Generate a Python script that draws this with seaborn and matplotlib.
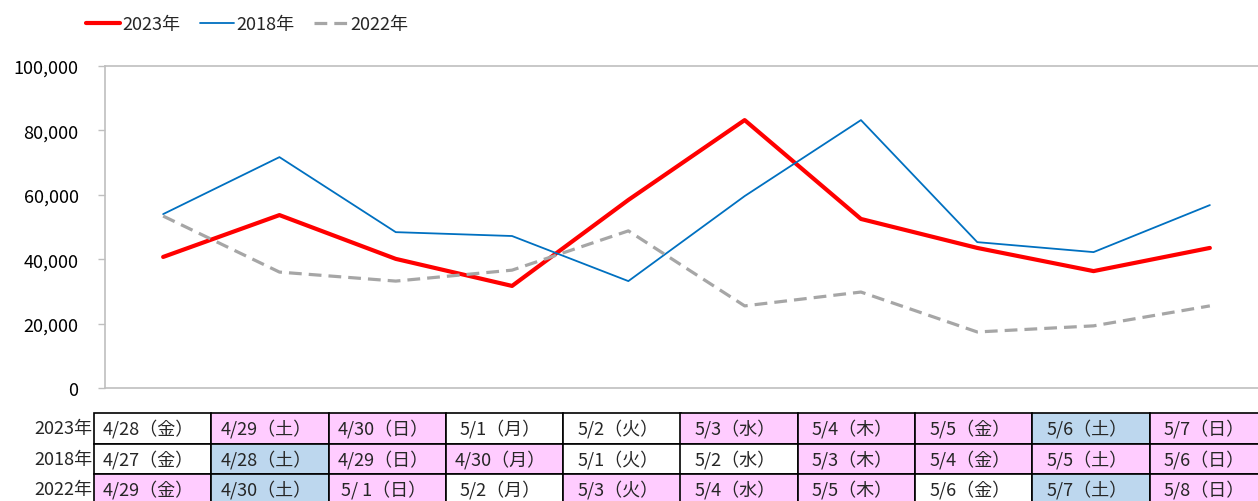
import numpy as np
import pandas as pd
import matplotlib
matplotlib.use("Agg")
import matplotlib.pyplot as plt
import seaborn as sns
from matplotlib.patches import Rectangle
from matplotlib.ticker import FuncFormatter

# ------------------------------------------------------------
# Données
# ------------------------------------------------------------
years = ["2023年", "2018年", "2022年"]

v2023 = [40700, 53700, 40100, 31700, 58400, 83200, 52500, 43500, 36300, 43500]
v2018 = [54000, 71700, 48400, 47200, 33200, 59600, 83200, 45300, 42200, 56800]
v2022 = [53400, 36000, 33200, 36600, 48800, 25500, 29800, 17400, 19300, 25500]

dates2023 = ["4/28（金）", "4/29（土）", "4/30（日）", "5/1（月）", "5/2（火）",
             "5/3（水）", "5/4（木）", "5/5（金）", "5/6（土）", "5/7（日）"]
dates2018 = ["4/27（金）", "4/28（土）", "4/29（日）", "4/30（月）", "5/1（火）",
             "5/2（水）", "5/3（木）", "5/4（金）", "5/5（土）", "5/6（日）"]
dates2022 = ["4/29（金）", "4/30（土）", "5/ 1（日）", "5/2（月）", "5/3（火）",
             "5/4（水）", "5/5（木）", "5/6（金）", "5/7（土）", "5/8（日）"]

# w = jour ouvré, h = férié / dimanche, s = samedi
kind2023 = ["w", "h", "h", "w", "w", "h", "h", "h", "s", "h"]
kind2018 = ["w", "s", "h", "h", "w", "w", "h", "h", "h", "h"]
kind2022 = ["h", "s", "h", "w", "h", "h", "h", "w", "s", "h"]

day = np.arange(len(v2023))

# ------------------------------------------------------------
# Style
# ------------------------------------------------------------
sns.set_theme(style="white")
plt.rcParams["font.family"] = ["Noto Sans CJK JP", "DejaVu Sans"]

W, H = 1258, 502
fig = plt.figure(figsize=(W / 100, H / 100), dpi=100)

def fx(px):
    return px / W

def fy(py):
    return 1 - py / H

ax = fig.add_axes([fx(105), fy(389), fx(1268) - fx(105), fy(67) - fy(389)])

df = pd.DataFrame({"day": day, "2023": v2023, "2018": v2018, "2022": v2022})

sns.lineplot(data=df, x="day", y="2023", ax=ax, color="#FF0000", lw=3.0,
             label=years[0])
sns.lineplot(data=df, x="day", y="2018", ax=ax, color="#0070C0", lw=1.3,
             label=years[1])
sns.lineplot(data=df, x="day", y="2022", ax=ax, color="#A6A6A6", lw=2.3,
             linestyle=(0, (4, 2.2)), label=years[2])

ax.set_xlim(-0.5, 9.5)
ax.set_ylim(0, 100000)
ax.set_yticks(np.arange(0, 100001, 20000))
ax.yaxis.set_major_formatter(FuncFormatter(lambda v, p: f"{int(v):,}"))
ax.set_xticks([])
ax.set_xlabel("")
ax.set_ylabel("")
for s in ax.spines.values():
    s.set_color("#BFBFBF")
    s.set_linewidth(1.2)
ax.tick_params(axis="y", left=True, length=5, width=1, color="#BFBFBF",
               labelsize=13, labelcolor="black", pad=14)

ax.get_legend().remove()
handles, labels = ax.get_legend_handles_labels()
fig.legend(handles, labels, loc="upper left", bbox_to_anchor=(fx(70), fy(0)),
           ncol=3, frameon=False, fontsize=13, handlelength=1.85,
           handletextpad=0.15, columnspacing=1.1)

# ------------------------------------------------------------
# Tableau des dates
# ------------------------------------------------------------
colors = {"w": "white", "h": "#FFCCFF", "s": "#BDD7EE"}
rows = [(dates2023, kind2023), (dates2018, kind2018), (dates2022, kind2022)]
x0, cw = 94, 117.3
y0, rh = 414, 30.5
for r, (labs, kinds) in enumerate(rows):
    top = y0 + r * rh
    fig.text(fx(92), fy(top + rh / 2), years[r], ha="right", va="center",
             fontsize=13)
    for c, (lab, k) in enumerate(zip(labs, kinds)):
        left = x0 + c * cw
        fig.add_artist(Rectangle((fx(left), fy(top + rh)), fx(cw), rh / H,
                                 transform=fig.transFigure, facecolor=colors[k],
                                 edgecolor="black", lw=1.2))
        fig.text(fx(left + cw / 2 - 4), fy(top + rh / 2), lab, ha="center",
                 va="center", fontsize=13)

fig.savefig("out.png", dpi=100)
